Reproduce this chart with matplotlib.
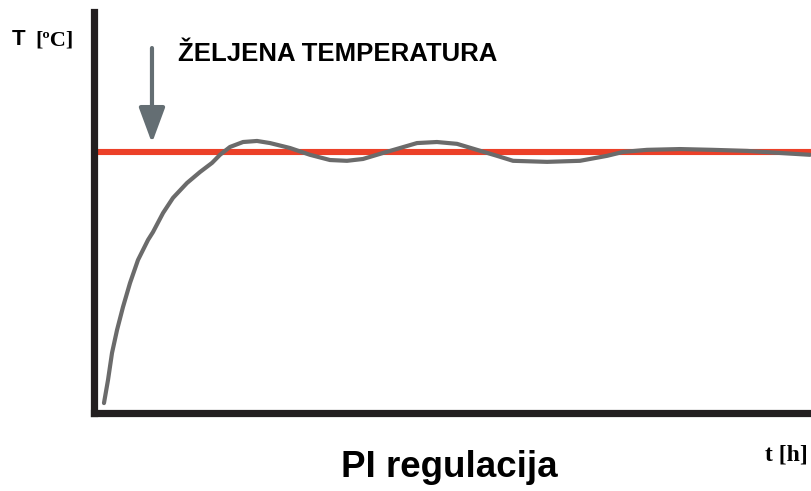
import matplotlib.pyplot as plt

# time axis (arbitrary units, 0..100) and temperature (setpoint = 100)
t = [1.46, 2.02, 2.58, 3.28, 4.11, 5.09, 6.20, 7.60, 8.29, 9.69, 11.08,
     13.03, 14.84, 16.52, 17.63, 19.02, 20.84, 22.79, 24.60, 27.39, 30.17,
     32.96, 35.33, 37.56, 40.35, 42.72, 45.09, 47.87, 50.66, 53.45, 56.24,
     58.47, 63.21, 67.80, 71.57, 73.80, 77.14, 81.74, 86.34, 91.08, 95.68,
     99.86]
temp = [3.8, 12.6, 23.0, 31.8, 40.6, 49.8, 58.6, 66.3, 69.3, 76.6, 82.4,
        88.1, 92.3, 95.8, 98.9, 101.9, 103.8, 104.2, 103.4, 101.5, 98.9,
        96.9, 96.6, 97.3, 99.6, 101.5, 103.4, 103.8, 103.1, 100.8, 98.5,
        96.6, 96.2, 96.6, 98.5, 100.0, 100.8, 101.1, 100.8, 100.4, 99.6,
        98.9]
setpoint = 100
arrow_x, arrow_top = 8.15, 139.8

W, H = 811, 491
fig = plt.figure(figsize=(W / 100, H / 100), dpi=100)
ax = fig.add_axes([93.5 / W, (H - 413) / H, 1 - 93.5 / W, (413 - 12) / H])

ax.axhline(setpoint, color='#ec4028', lw=4.4, zorder=2)
ax.plot(t, temp, color='#6b6b6b', lw=3.0, solid_capstyle='round',
        solid_joinstyle='round', zorder=3)

ax.annotate('', xy=(arrow_x, setpoint + 3.4), xytext=(arrow_x, arrow_top),
            arrowprops=dict(arrowstyle='-|>,head_length=1.08,head_width=0.4',
                            color='#646e73', lw=3, mutation_scale=20,
                            shrinkA=0, shrinkB=0))

ax.set_xlim(0, 100)
ax.set_ylim(0, 153.6)
ax.set_xticks([])
ax.set_yticks([])
for s in ['top', 'right']:
    ax.spines[s].set_visible(False)
for s in ['left', 'bottom']:
    ax.spines[s].set_linewidth(5.2)
    ax.spines[s].set_color('#231f20')
    ax.spines[s].set_capstyle('projecting')

sans = 'Liberation Sans'
serif = 'Liberation Serif'
fig.text(178 / W, 1 - 61 / H, 'ŽELJENA TEMPERATURA', family=sans,
         weight='bold', fontsize=18.5, va='baseline')
fig.text(12 / W, 1 - 45 / H, 'T', family=sans, weight='bold', fontsize=16,
         va='baseline')
fig.text(35 / W, 1 - 45 / H, '[ºC]', family=serif, weight='bold',
         fontsize=16, va='baseline')
fig.text(808 / W, 1 - 460 / H, 't [h]', family=serif, weight='bold',
         fontsize=17, ha='right', va='baseline')
fig.text(449 / W, 1 - 477 / H, 'PI regulacija', family=sans, weight='bold',
         fontsize=26.5, ha='center', va='baseline')

fig.savefig('out.png', dpi=100)
